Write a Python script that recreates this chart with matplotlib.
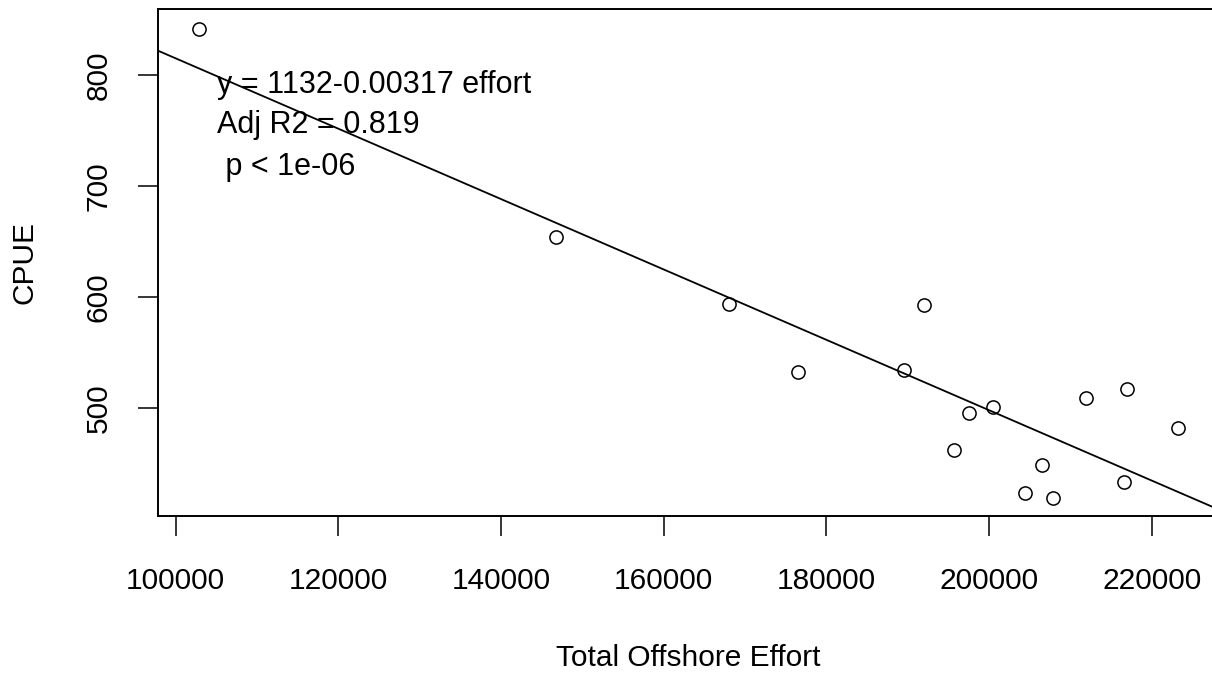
"""
CPUE against total offshore effort, with the fitted regression line
"""
import matplotlib.pyplot as plt
import matplotlib as mtpl

mtpl.rcParams['font.family'] = ['Liberation Sans', 'DejaVu Sans']

# data
effort = [102900, 146760, 167990, 176550, 189580, 192000, 195690, 197540,
          200520, 204460, 206550, 207900, 211880, 216630, 216930, 223270]
cpue = [841.2, 654.3, 593.7, 532.2, 534.2, 592.8, 462.2, 495.2,
        501.2, 423.2, 448.6, 419.2, 508.7, 433.1, 516.8, 481.7]

intercept = 1132
slope = -0.00317
fit_text = ['y = 1132-0.00317 effort', 'Adj R2 = 0.819', ' p < 1e-06']

xticks = [100000, 120000, 140000, 160000, 180000, 200000, 220000]
yticks = [500, 600, 700, 800]

fs = 21.5

fig = plt.figure(figsize=(12.12, 6.75), dpi=100)
ax = fig.add_axes([0.1304, 0.2356, 0.8754, 0.7511])

ax.plot(effort, cpue, linestyle='none', marker='o', markersize=9.5,
        markerfacecolor='none', markeredgecolor='black', markeredgewidth=1.1)
ax.axline((0, intercept), slope=slope, color='black', linewidth=1.3)

for i, line in enumerate(fit_text):
    ax.text(105100, [783.8, 747.7, 709.9][i], line, fontsize=22,
            ha='left', va='baseline')

ax.set_xlim(97824, 228274)
ax.set_ylim(402.7, 859.5)
ax.set_xticks(xticks)
ax.set_xticklabels([str(t) for t in xticks])
ax.set_yticks(yticks)
ax.set_yticklabels([str(t) for t in yticks])

ax.tick_params(axis='both', length=14.5, width=1.1, labelsize=fs)
ax.tick_params(axis='x', pad=22)
ax.tick_params(axis='y', pad=18)
for lab in ax.get_yticklabels():
    lab.set_rotation(90)
    lab.set_va('center')
    lab.set_ha('right')

for side in ['top', 'bottom', 'left', 'right']:
    ax.spines[side].set_linewidth(1.4)

ax.set_xlabel('Total Offshore Effort', fontsize=fs)
ax.set_ylabel('CPUE', fontsize=fs)
ax.xaxis.set_label_coords(0.5, -0.28)
ax.xaxis.label.set_va('center')
ax.yaxis.set_label_coords(-0.1254, 0.5)
ax.yaxis.label.set_va('center')
ax.yaxis.label.set_ha('center')

plt.savefig('out.png', dpi=100)
